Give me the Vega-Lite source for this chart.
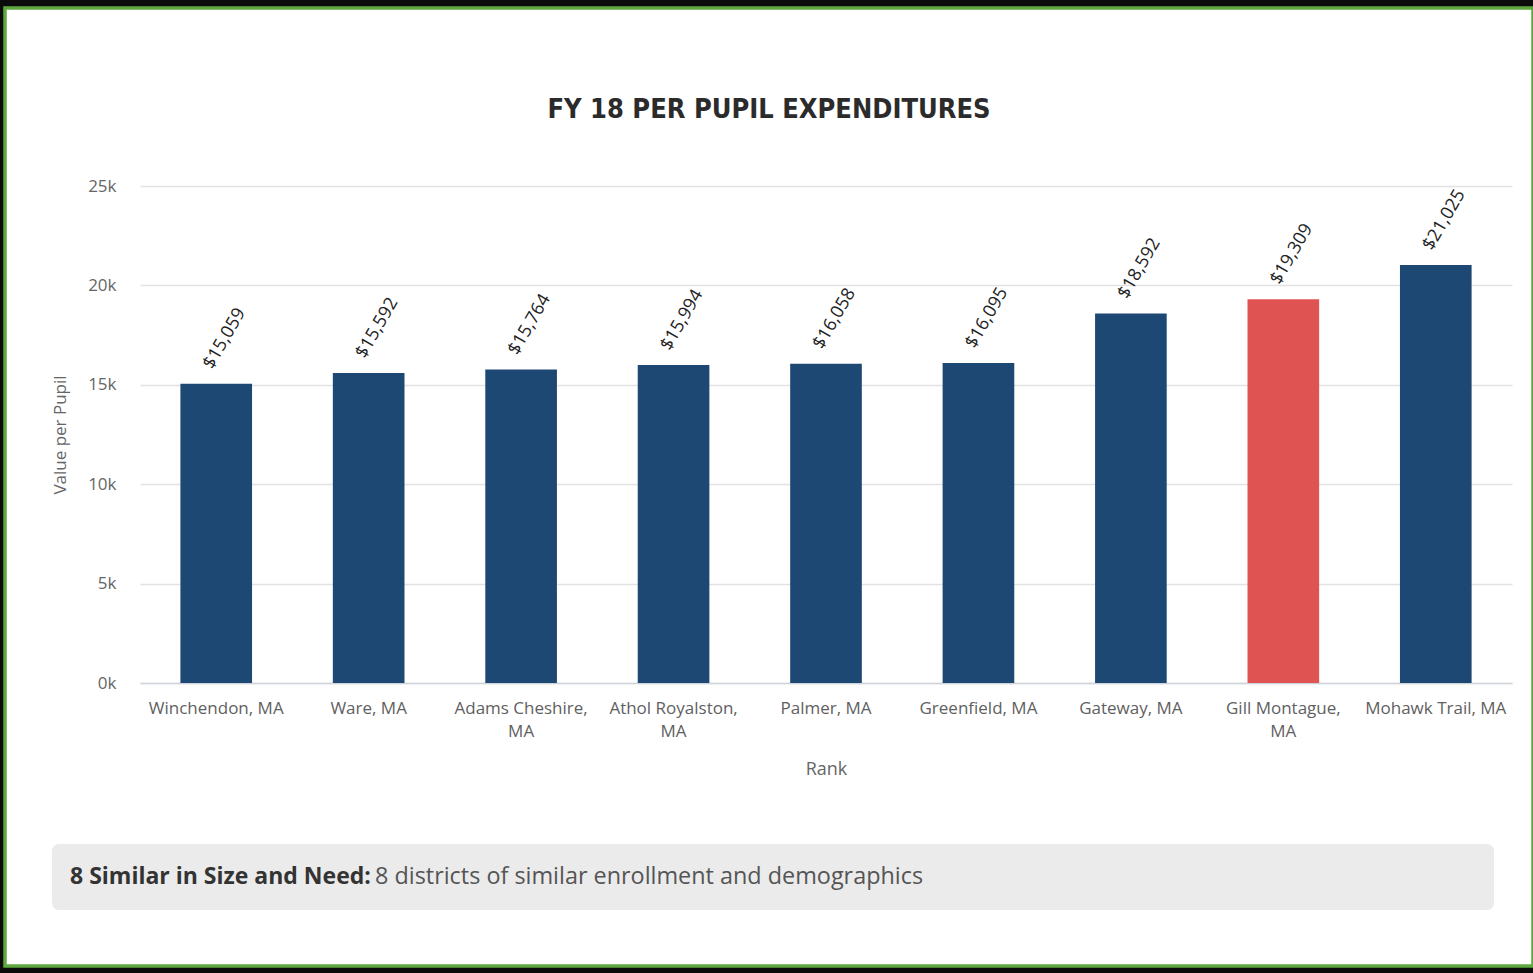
{
  "$schema": "https://vega.github.io/schema/vega-lite/v6.json",
  "width": 1528,
  "height": 958,
  "autosize": {"type": "none"},
  "padding": {"left": 5, "top": 8, "right": 0, "bottom": 7},
  "background": "#0b0b0b",
  "title": {
    "text": "FY 18 PER PUPIL EXPENDITURES",
    "frame": "group",
    "anchor": "middle",
    "offset": -137,
    "baseline": "alphabetic",
    "font": "Liberation Sans Narrow, DejaVu Sans Condensed, sans-serif",
    "fontSize": 27,
    "fontWeight": "bold",
    "color": "#2b2b2b"
  },
  "config": {
    "view": {"fill": "white", "stroke": "#5fa83f", "strokeWidth": 3.5},
    "font": "Open Sans"
  },
  "datasets": {
    "districts": [
      {"district": "Winchendon, MA", "value": 15059},
      {"district": "Ware, MA", "value": 15592},
      {"district": "Adams Cheshire, MA", "value": 15764},
      {"district": "Athol Royalston, MA", "value": 15994},
      {"district": "Palmer, MA", "value": 16058},
      {"district": "Greenfield, MA", "value": 16095},
      {"district": "Gateway, MA", "value": 18592},
      {"district": "Gill Montague, MA", "value": 19309},
      {"district": "Mohawk Trail, MA", "value": 21025}
    ],
    "footer": [
      {"bold": "8 Similar in Size and Need:", "text": "8 districts of similar enrollment and demographics"}
    ]
  },
  "resolve": {
    "scale": {"x": "independent", "y": "independent"},
    "axis": {"x": "independent", "y": "independent"}
  },
  "layer": [
    {
      "data": {"name": "districts"},
      "encoding": {
        "x": {
          "field": "district",
          "type": "nominal",
          "sort": null,
          "scale": {"range": [135, 1507], "paddingInner": 0.53, "paddingOuter": 0.265},
          "axis": {
            "title": "Rank",
            "orient": "bottom",
            "offset": -283,
            "labelAngle": 0,
            "labelFont": "Open Sans",
            "labelFontSize": 17,
            "labelColor": "#5f5f5f",
            "labelPadding": 17,
            "labelLineHeight": 23,
            "labelLimit": 0,
            "labelOverlap": false,
            "labelExpr": "length(datum.label) > 16 ? [slice(datum.label, 0, -3), 'MA'] : datum.label",
            "ticks": false,
            "domainColor": "#cfd3da",
            "domainWidth": 1.5,
            "grid": false,
            "titleFont": "Open Sans",
            "titleFontSize": 18,
            "titleFontWeight": "normal",
            "titleColor": "#666666",
            "titlePadding": 21
          }
        },
        "y": {
          "field": "value",
          "type": "quantitative",
          "scale": {"domain": [0, 25000], "range": [675, 178], "nice": false},
          "axis": {
            "title": "Value per Pupil",
            "values": [0, 5000, 10000, 15000, 20000, 25000],
            "labelExpr": "(datum.value / 1000) + 'k'",
            "offset": -119,
            "ticks": false,
            "tickSize": 0,
            "domain": false,
            "labelPadding": 8,
            "labelFont": "Open Sans",
            "labelFontSize": 17,
            "labelColor": "#666666",
            "grid": true,
            "gridColor": "#e2e2e2",
            "gridWidth": 1.5,
            "titleFont": "Open Sans",
            "titleFontSize": 17,
            "titleFontWeight": "normal",
            "titleColor": "#666666",
            "titlePadding": 18
          }
        }
      },
      "layer": [
        {
          "mark": {"type": "bar"},
          "encoding": {
            "color": {
              "condition": {"test": "datum.district === 'Gill Montague, MA'", "value": "#e05353"},
              "value": "#1e4874"
            }
          }
        },
        {
          "mark": {
            "type": "text",
            "angle": -60,
            "align": "left",
            "baseline": "middle",
            "dx": 10,
            "dy": -15,
            "font": "Open Sans",
            "fontSize": 18,
            "color": "#222222"
          },
          "encoding": {
            "text": {"field": "value", "type": "quantitative", "format": "$,.0f"}
          }
        }
      ]
    },
    {
      "data": {"name": "footer"},
      "layer": [
        {
          "mark": {"type": "rect", "fill": "#ebebeb", "cornerRadius": 7},
          "encoding": {
            "x": {"datum": 0, "type": "quantitative", "scale": {"domain": [0, 1], "range": [47, 1489]}, "axis": null},
            "x2": {"datum": 1},
            "y": {"datum": 0, "type": "quantitative", "scale": {"domain": [0, 1], "range": [902, 836]}, "axis": null},
            "y2": {"datum": 1}
          }
        },
        {
          "mark": {"type": "text", "align": "left", "baseline": "middle", "dx": 18, "font": "Open Sans", "fontSize": 23, "fontWeight": "bold", "color": "#333333"},
          "encoding": {
            "x": {"datum": 0, "type": "quantitative", "scale": {"domain": [0, 1], "range": [47, 1489]}, "axis": null},
            "y": {"datum": 0.5, "type": "quantitative", "scale": {"domain": [0, 1], "range": [902, 836]}, "axis": null},
            "text": {"field": "bold"}
          }
        },
        {
          "mark": {"type": "text", "align": "left", "baseline": "middle", "dx": 323, "font": "Open Sans", "fontSize": 23.4, "color": "#555555"},
          "encoding": {
            "x": {"datum": 0, "type": "quantitative", "scale": {"domain": [0, 1], "range": [47, 1489]}, "axis": null},
            "y": {"datum": 0.5, "type": "quantitative", "scale": {"domain": [0, 1], "range": [902, 836]}, "axis": null},
            "text": {"field": "text"}
          }
        }
      ]
    }
  ]
}
